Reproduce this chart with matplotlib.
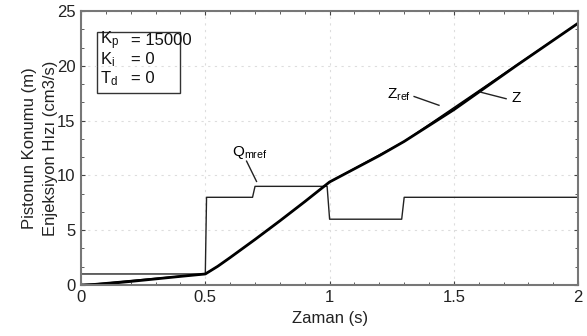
import numpy as np
import matplotlib
matplotlib.use("Agg")
import matplotlib.pyplot as plt
from matplotlib.ticker import MultipleLocator

plt.rcParams['font.family'] = ['Liberation Sans', 'DejaVu Sans']
plt.rcParams['mathtext.fontset'] = 'custom'
plt.rcParams['mathtext.rm'] = 'Liberation Sans'
plt.rcParams['mathtext.it'] = 'Liberation Sans'

# Q_mref reference flow (step profile)
q_t = [0, 0.5, 0.505, 0.69, 0.70, 0.99, 1.0, 1.29, 1.30, 2.0]
q_v = [1, 1, 8, 8, 9, 9, 6, 6, 8, 8]

# piston position Z (and Z_ref, nearly identical)
z_t = [0, 0.05, 0.1, 0.2, 0.3, 0.4, 0.5, 0.55, 0.6, 0.7, 0.8, 0.9, 1.0, 1.1, 1.2, 1.3, 1.5, 1.75, 2.0]
z_v = [0, 0.02, 0.1, 0.32, 0.55, 0.78, 1.0, 1.7, 2.5, 4.15, 5.85, 7.6, 9.4, 10.6, 11.8, 13.1, 16.0, 20.0, 23.9]
zref_t = [0, 0.5, 0.55, 0.6, 0.7, 0.8, 0.9, 1.0, 1.3, 2.0]
zref_v = [0, 1.0, 1.7, 2.5, 4.15, 5.85, 7.6, 9.4, 13.1, 23.9]

params = ['p', 'i', 'd']
param_names = ['K', 'K', 'T']
param_vals = ['= 15000', '= 0', '= 0']

fig = plt.figure(figsize=(5.87, 3.36), dpi=100)
ax = fig.add_axes([0.138, 0.152, 0.847, 0.815])

ax.plot(q_t, q_v, color='#222222', lw=1.0)
ax.plot(zref_t, zref_v, color='black', lw=1.0)
ax.plot(z_t, z_v, color='black', lw=2.0)

ax.set_xlim(0, 2)
ax.set_ylim(0, 25)
ax.set_xticks([0, 0.5, 1, 1.5, 2])
ax.set_xticklabels(['0', '0.5', '1', '1.5', '2'])
ax.set_yticks([0, 5, 10, 15, 20, 25])
ax.xaxis.set_minor_locator(MultipleLocator(0.1))
ax.yaxis.set_minor_locator(MultipleLocator(5 / 3))
ax.tick_params(which='both', direction='in', top=True, right=True,
               color='#444444', labelsize=12, labelcolor='#222222', pad=4)
ax.tick_params(which='major', length=3)
ax.tick_params(which='minor', length=2)
for s in ax.spines.values():
    s.set_color('#777777')
    s.set_linewidth(1.5)
ax.grid(True, which='major', color='#dddddd', linestyle=(0, (2, 4)), lw=0.8)

ax.set_xlabel('Zaman (s)', fontsize=12, color='#222222')
ax.set_ylabel('Pistonun Konumu (m)\nEnjeksiyon Hızı (cm3/s)', fontsize=12,
              color='#222222', linespacing=1.5, labelpad=-1)

# parameter box
for i in range(3):
    yy = 22.3 - i * 1.72
    ax.text(0.075, yy, '$\\mathregular{%s_{%s}}$' % (param_names[i], params[i]),
            fontsize=12, va='center', ha='left', color='#111111')
    ax.text(0.2, yy, param_vals[i], fontsize=12, va='center', ha='left',
            color='#111111')
ax.add_patch(plt.Rectangle((0.063, 17.5), 0.334, 5.6, fill=False,
                           ec='#333333', lw=1.0))

# labels with leader lines
ax.text(0.678, 12.1, '$\\mathregular{Q_{mref}}$', fontsize=11, ha='center', va='center')
ax.plot([0.666, 0.706], [11.3, 9.45], color='#222222', lw=1.0)
ax.text(1.28, 17.4, '$\\mathregular{Z_{ref}}$', fontsize=11, ha='center', va='center')
ax.plot([1.34, 1.44], [17.2, 16.4], color='#222222', lw=1.0)
ax.text(1.75, 17.1, 'Z', fontsize=11, ha='center', va='center')
ax.plot([1.607, 1.71], [17.6, 17.0], color='#222222', lw=1.0)

fig.savefig('out.png', dpi=100)
